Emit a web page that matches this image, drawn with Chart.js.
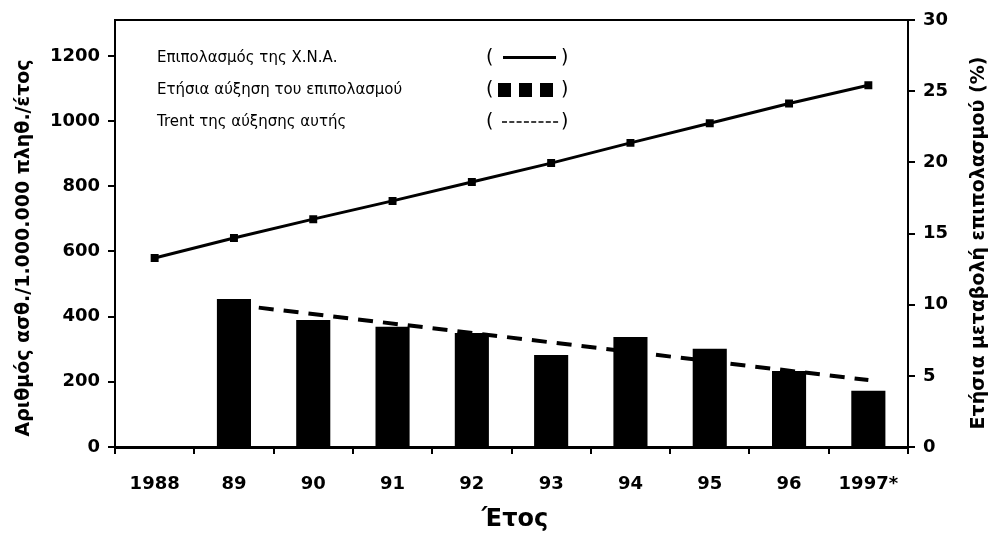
<!DOCTYPE html>
<html>
<head>
<meta charset="utf-8">
<script src="https://cdn.jsdelivr.net/npm/chart.js@4"></script>
<style>
  html, body { margin: 0; padding: 0; background: #fff; }
  #wrap { width: 992px; height: 537px; }
</style>
</head>
<body>
<div id="wrap"><canvas id="chart"></canvas></div>
<script>
const years = ['1988', '89', '90', '91', '92', '93', '94', '95', '96', '1997*'];
const prevalence = [580, 641, 699, 755, 813, 871, 933, 993, 1054, 1110];
const yearlyGrowth = [null, 10.4, 8.92, 8.45, 8.01, 6.47, 7.73, 6.91, 5.34, 3.96];
const growthTrend = [null, 10.0, null, null, null, null, null, null, null, 4.7];
const leftTicks = [0, 200, 400, 600, 800, 1000, 1200];
const rightTicks = [0, 5, 10, 15, 20, 25, 30];

const legendRows = [
    'Επιπολασμός της Χ.Ν.Α.',
    'Ετήσια αύξηση του επιπολασμού',
    'Trent της αύξησης αυτής'
];

const tickFont = { family: '"DejaVu Sans"', size: 18, weight: 'bold' };

// titles, legend and the frame are drawn by hand
const decorPlugin = {
    id: 'decor',
    afterDraw(chart) {
        const ctx = chart.ctx;
        const area = chart.chartArea;
        ctx.save();
        ctx.strokeStyle = '#000';
        ctx.lineWidth = 2;
        ctx.beginPath();
        ctx.moveTo(area.left, area.top);
        ctx.lineTo(area.right, area.top);
        ctx.stroke();

        // legend
        ctx.fillStyle = '#000';
        ctx.textBaseline = 'middle';
        ctx.textAlign = 'left';
        legendRows.forEach((txt, i) => {
            const mid = 57.5 + i * 32;
            ctx.font = '15px "DejaVu Sans"';
            ctx.fillText(txt, 157, mid + 1);
            ctx.font = '19px "DejaVu Sans"';
            ctx.fillText('(', 486, mid + 1);
            ctx.fillText(')', 561, mid + 1);
        });
        ctx.lineWidth = 3;
        ctx.beginPath();
        ctx.moveTo(503, 57.5);
        ctx.lineTo(556, 57.5);
        ctx.stroke();
        [498, 519, 540].forEach(x => ctx.fillRect(x, 83, 13, 14));
        ctx.lineWidth = 1.5;
        ctx.setLineDash([5, 2.3]);
        ctx.beginPath();
        ctx.moveTo(502, 122);
        ctx.lineTo(560, 122);
        ctx.stroke();
        ctx.setLineDash([]);

        ctx.font = 'bold 24px "DejaVu Sans"';
        ctx.textAlign = 'center';
        ctx.fillText('Έτος', 515, 520);

        ctx.font = 'bold 19px "DejaVu Sans"';
        ctx.translate(24, 248);
        ctx.rotate(-Math.PI / 2);
        ctx.fillText('Αριθμός ασθ./1.000.000 πληθ./έτος', 0, 0);
        ctx.restore();

        ctx.save();
        ctx.fillStyle = '#000';
        ctx.font = 'bold 19px "DejaVu Sans"';
        ctx.textAlign = 'center';
        ctx.textBaseline = 'middle';
        ctx.translate(979, 243);
        ctx.rotate(-Math.PI / 2);
        ctx.fillText('Ετήσια μεταβολή επιπολασμού (%)', 0, 0);
        ctx.restore();
    }
};

const ctx = document.getElementById('chart').getContext('2d');
new Chart(ctx, {
    type: 'bar',
    data: {
        labels: years,
        datasets: [{
            type: 'line',
            label: 'Επιπολασμός της Χ.Ν.Α.',
            data: prevalence,
            yAxisID: 'y',
            borderColor: '#000',
            backgroundColor: '#000',
            borderWidth: 3,
            pointStyle: 'rect',
            pointRadius: 3.5,
            tension: 0,
            order: 0
        }, {
            type: 'bar',
            label: 'Ετήσια αύξηση του επιπολασμού',
            data: yearlyGrowth,
            yAxisID: 'y1',
            backgroundColor: '#000',
            borderWidth: 0,
            categoryPercentage: 1,
            barPercentage: 0.43,
            order: 1
        }, {
            type: 'line',
            label: 'Trent της αύξησης αυτής',
            data: growthTrend,
            yAxisID: 'y1',
            borderColor: '#000',
            borderWidth: 4,
            borderDash: [15, 10],
            pointRadius: 0,
            spanGaps: true,
            order: 2
        }]
    },
    options: {
        responsive: true,
        maintainAspectRatio: false,
        animation: false,
        layout: { padding: { top: 20, left: 0, right: 0, bottom: 0 } },
        plugins: {
            legend: { display: false },
            tooltip: { enabled: false }
        },
        scales: {
            x: {
                offset: true,
                grid: { offset: true, drawOnChartArea: false, tickLength: 7, color: '#000', lineWidth: 2 },
                border: { color: '#000', width: 3 },
                ticks: { color: '#000', font: tickFont, padding: 20, maxRotation: 0 },
                afterFit: s => { s.height = 90; }
            },
            y: {
                position: 'left',
                min: 0,
                max: 1310,
                afterBuildTicks: s => { s.ticks = leftTicks.map(v => ({ value: v })); },
                grid: { drawOnChartArea: false, tickLength: 7, color: '#000', lineWidth: 2 },
                border: { color: '#000', width: 2 },
                ticks: { color: '#000', font: tickFont, padding: 8, callback: v => v },
                afterFit: s => { s.width = 115; }
            },
            y1: {
                position: 'right',
                min: 0,
                max: 30,
                afterBuildTicks: s => { s.ticks = rightTicks.map(v => ({ value: v })); },
                grid: { drawOnChartArea: false, tickLength: 7, color: '#000', lineWidth: 2 },
                border: { color: '#000', width: 2 },
                ticks: { color: '#000', font: tickFont, padding: 8, callback: v => v },
                afterFit: s => { s.width = 84; }
            }
        }
    },
    plugins: [decorPlugin]
});
</script>
</body>
</html>
